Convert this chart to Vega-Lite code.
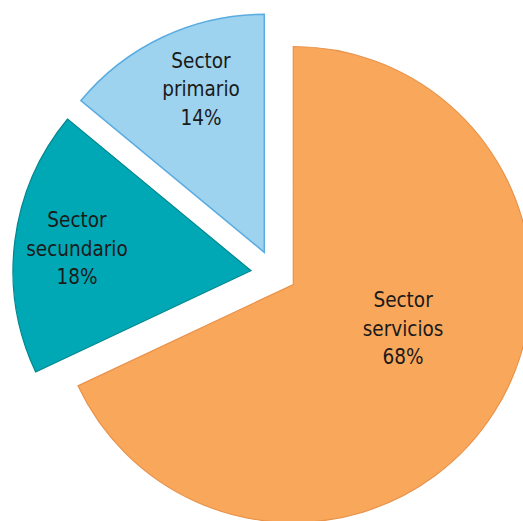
{
  "$schema": "https://vega.github.io/schema/vega-lite/v6.json",
  "width": 523,
  "height": 521,
  "autosize": {"type": "none"},
  "padding": 0,
  "background": "white",
  "view": {"stroke": null},
  "data": {
    "values": [
      {"sector": "Sector servicios", "pct": 68, "order": 1, "label": "Sector\nservicios\n68%"},
      {"sector": "Sector secundario", "pct": 18, "order": 2, "label": "Sector\nsecundario\n18%"},
      {"sector": "Sector primario", "pct": 14, "order": 3, "label": "Sector\nprimario\n14%"}
    ]
  },
  "encoding": {
    "theta": {"field": "pct", "type": "quantitative", "stack": true, "scale": {"domain": [0, 100]}},
    "order": {"field": "order", "type": "quantitative", "sort": "ascending"}
  },
  "layer": [
    {
      "mark": {"type": "arc", "outerRadius": 238, "xOffset": 31.8, "yOffset": 24, "fill": "#F9A75B", "stroke": "#E8934B", "strokeWidth": 1.2},
      "encoding": {"opacity": {"condition": {"test": "datum.order == 1", "value": 1}, "value": 0}}
    },
    {
      "mark": {"type": "arc", "outerRadius": 238, "xOffset": -10.5, "yOffset": 10.2, "fill": "#00A8B5", "stroke": "#00878F", "strokeWidth": 1.2},
      "encoding": {"opacity": {"condition": {"test": "datum.order == 2", "value": 1}, "value": 0}}
    },
    {
      "mark": {"type": "arc", "outerRadius": 238, "xOffset": 2.8, "yOffset": -8.2, "fill": "#9DD3EE", "stroke": "#5AACE0", "strokeWidth": 1.5},
      "encoding": {"opacity": {"condition": {"test": "datum.order == 3", "value": 1}, "value": 0}}
    },
    {
      "mark": {"type": "text", "radius": 130, "dx": 31.8, "dy": -28.7, "lineBreak": "\n", "font": "DejaVu Sans Condensed, sans-serif", "fontSize": 20.5, "lineHeight": 28.5, "color": "#1a1a1a"},
      "encoding": {"text": {"field": "label", "type": "nominal"}, "opacity": {"condition": {"test": "datum.order == 1", "value": 1}, "value": 0}}
    },
    {
      "mark": {"type": "text", "radius": 175, "dx": -10.9, "dy": -17.1, "lineBreak": "\n", "font": "DejaVu Sans Condensed, sans-serif", "fontSize": 20.5, "lineHeight": 28.5, "color": "#1a1a1a"},
      "encoding": {"text": {"field": "label", "type": "nominal"}, "opacity": {"condition": {"test": "datum.order == 2", "value": 1}, "value": 0}}
    },
    {
      "mark": {"type": "text", "radius": 174, "dx": 13.6, "dy": -41.5, "lineBreak": "\n", "font": "DejaVu Sans Condensed, sans-serif", "fontSize": 20.5, "lineHeight": 28.5, "color": "#1a1a1a"},
      "encoding": {"text": {"field": "label", "type": "nominal"}, "opacity": {"condition": {"test": "datum.order == 3", "value": 1}, "value": 0}}
    }
  ]
}
